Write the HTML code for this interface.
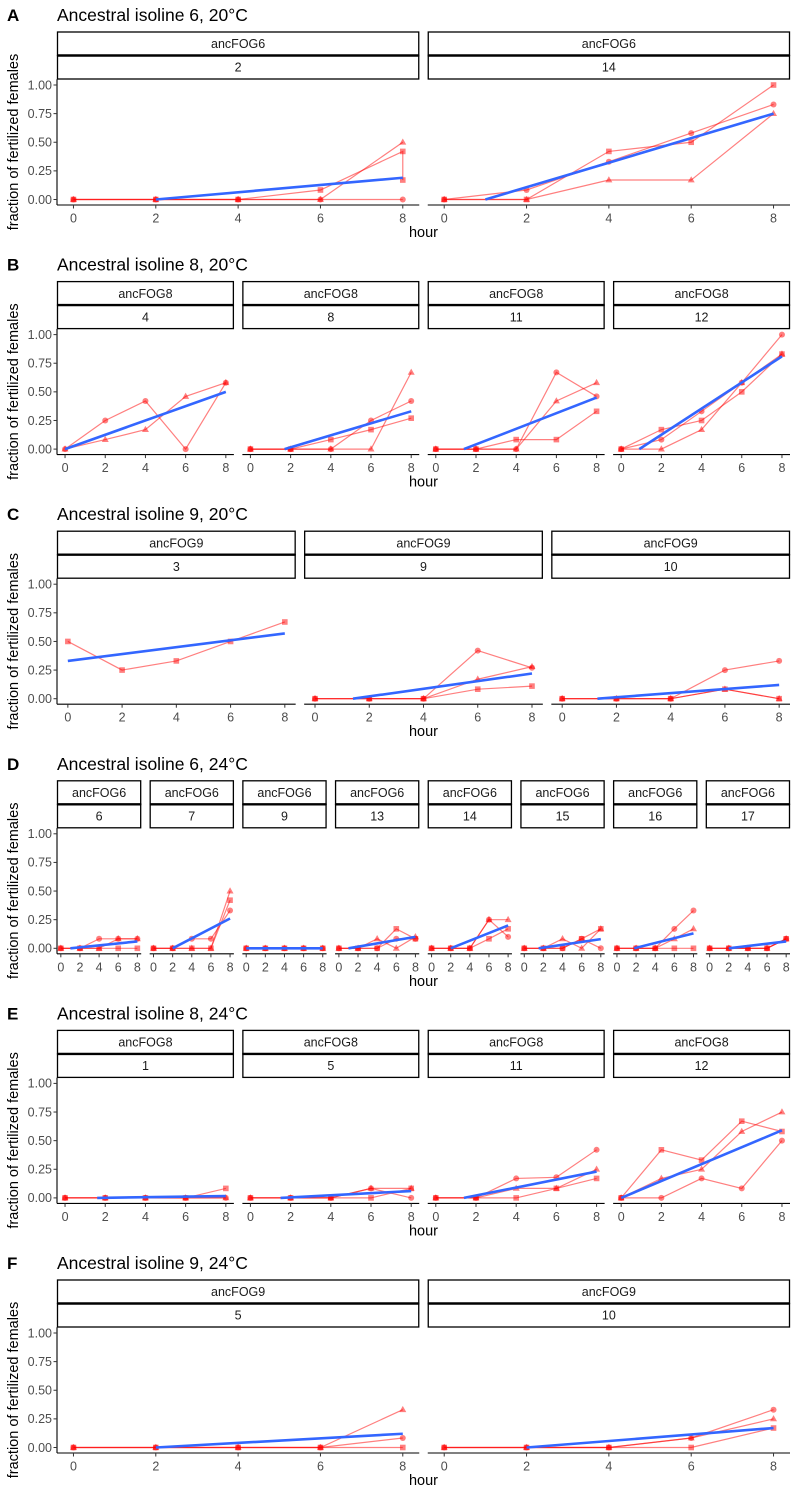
<!DOCTYPE html>
<html><head><meta charset="utf-8">
<style>
body{margin:0;background:#fff;}
svg{display:block;font-family:"Liberation Sans",Arial,sans-serif;}
</style></head>
<body>
<svg id="chart" width="799" height="1498" viewBox="0 0 799 1498" xmlns="http://www.w3.org/2000/svg"></svg>
<script>
// ---- data ----
const rowLetters = ["A","B","C","D","E","F"];
const rowTitles = ["Ancestral isoline 6, 20°C","Ancestral isoline 8, 20°C","Ancestral isoline 9, 20°C","Ancestral isoline 6, 24°C","Ancestral isoline 8, 24°C","Ancestral isoline 9, 24°C"];
const rowStrain = ["ancFOG6","ancFOG8","ancFOG9","ancFOG6","ancFOG8","ancFOG9"];
const rowFacets = [[2,14],[4,8,11,12],[3,9,10],[6,7,9,13,14,15,16,17],[1,5,11,12],[5,10]];
const hours = [0,2,4,6,8];
const yTicks = [0,0.25,0.5,0.75,1];
const yTickLabels = ["0.00","0.25","0.50","0.75","1.00"];
const xTicks = [0,2,4,6,8];
// circle / triangle / square series per facet (null = absent)
const circleVals = [
 [[0,0,0,0,0],[0,0.083,0.33,0.58,0.83]],
 [[0,0.25,0.42,0,0.58],[0,0,0,0.25,0.42],[0,0,0,0.67,0.46],[0,0.083,0.33,0.58,1.0]],
 [null,[0,0,0,0.42,0.27],[0,0,0,0.25,0.33]],
 [[0,0,0.083,0.083,0.083],[0,0,0.083,0.083,0.33],[0,0,0,0,0],[0,0,0,0.083,0.083],[0,0,0,0.25,0.1],[0,0,0,0.083,0],[0,0,0,0.17,0.33],[0,0,0,0,0.083]],
 [[0,0,0,0,0],[0,0,0,0.083,0],[0,0,0.17,0.18,0.42],[0,0,0.17,0.083,0.5]],
 [[0,0,0,0,0.083],[0,0,0,0.083,0.33]]
];
const triangleVals = [
 [[0,0,0,0,0.5],[0,0,0.17,0.17,0.75]],
 [[0,0.083,0.17,0.46,0.58],[0,0,0,0,0.67],[0,0,0,0.42,0.58],[0,0,0.17,0.58,0.83]],
 [null,[0,0,0,0.17,0.28],[0,0,0,0.083,0]],
 [[0,0,0,0.083,0.083],[0,0,0,0,0.5],[0,0,0,0,0],[0,0,0.083,0,0.1],[0,0,0,0.25,0.25],[0,0,0.083,0,0.17],[0,0,0,0.083,0.17],[0,0,0,0,0.083]],
 [[0,0,0,0,0],[0,0,0,0.083,0.083],[0,0,0.083,0.083,0.25],[0,0.17,0.25,0.58,0.75]],
 [[0,0,0,0,0.33],[0,0,0,0.083,0.25]]
];
const squareVals = [
 [[0,0,0,0.083,0.42],[0,0,0.42,0.5,1.0]],
 [null,[0,0,0.083,0.17,0.27],[0,0,0.083,0.083,0.33],[0,0.17,0.25,0.5,0.83]],
 [[0.5,0.25,0.33,0.5,0.67],[0,0,0,0.083,0.11],[0,0,0,0.083,0]],
 [[0,0,0,0,0],[0,0,0,0,0.42],[0,0,0,0,0],[0,0,0,0.17,0.083],[0,0,0,0.083,0.17],[0,0,0,0.083,0.17],[0,0,0,0,0],[0,0,0,0,0.083]],
 [[0,0,0,0,0.083],[0,0,0,0,0.083],[0,0,0,0.083,0.17],[0,0.42,0.33,0.67,0.58]],
 [[0,0,0,0,0],[0,0,0,0,0.17]]
];
// extra duplicate square point (A facet 2 at hour 8)
const extraSquare = [[0,0,8,0.17]]; // row, facet, hour, value
// blue fit line: start hour, start value, end value (at hour 8)
const fitStartX = [[2,1],[0,1.7,1.4,0.9],[0,1.4,1.3],[1,2,0,1,2,1.5,1.8,2],[1.6,1.5,1.4,0],[2,2]];
const fitStartY = [[0,0],[0,0,0,0],[0.33,0,0],[0,0,0,0,0,0,0,0],[0,0,0,0],[0,0]];
const fitEndY = [[0.19,0.75],[0.5,0.33,0.45,0.81],[0.57,0.22,0.12],[0.06,0.26,0,0.1,0.2,0.08,0.13,0.06],[0.016,0.06,0.23,0.59],[0.12,0.17]];

// ---- drawing ----
const svg = document.getElementById('chart');
const NS = "http://www.w3.org/2000/svg";
function mk(tag, attrs, parent){const e=document.createElementNS(NS,tag);for(const k in attrs)e.setAttribute(k,attrs[k]);(parent||svg).appendChild(e);return e;}
const PERIOD=249.6, LEFT=57, RIGHT=790, GAP=8.5;
const RED="rgba(255,0,0,0.5)";
function drawShape(g,shape,cx,cy){
  let e;
  if(shape==='circle'){e=mk('circle',{cx:cx,cy:cy,r:3,fill:RED},g);}
  else if(shape==='triangle'){e=mk('polygon',{points:`${cx},${cy-3.8} ${cx-3.5},${cy+2.4} ${cx+3.5},${cy+2.4}`,fill:RED},g);}
  else {e=mk('rect',{x:cx-2.8,y:cy-2.8,width:5.6,height:5.6,fill:RED},g);}
  
  
}
rowLetters.forEach((L,r)=>{
  const oy=r*PERIOD;
  const row=mk('g',{});
  
  
  const lt=mk('text',{x:7,y:oy+21,'font-size':17,'font-weight':'bold',fill:'#000'},row);lt.textContent=L;
  
  
  const tt=mk('text',{x:57,y:oy+21,'font-size':17.5,fill:'#000'},row);tt.textContent=rowTitles[r];
  
  
  const yl=mk('text',{x:0,y:0,'font-size':14.5,'text-anchor':'middle',transform:`translate(18,${oy+142}) rotate(-90)`},row);yl.textContent='fraction of fertilized females';
  
  
  const xl=mk('text',{x:(LEFT+RIGHT)/2,y:oy+237,'font-size':14.5,'text-anchor':'middle'},row);xl.textContent='hour';
  
  
  const y0=oy+199.5, yk=114.5;
  const ys=v=>y0-v*yk;
  // y axis
  mk('line',{x1:LEFT,y1:oy+79.3,x2:LEFT,y2:oy+205,stroke:'#000','stroke-width':1.1},row);
  yTicks.forEach((t,i)=>{
    mk('line',{x1:LEFT-3.5,y1:ys(t),x2:LEFT,y2:ys(t),stroke:'#333','stroke-width':1},row);
    const tl=mk('text',{x:LEFT-5,y:ys(t)+4.3,'font-size':12.5,fill:'#4d4d4d','text-anchor':'end'},row);tl.textContent=yTickLabels[i];
    
    
  });
  const facets=rowFacets[r], n=facets.length;
  const w=(RIGHT-LEFT-(n-1)*GAP)/n;
  facets.forEach((f,j)=>{
    const px=LEFT+j*(w+GAP);
    const xs=h=>px+(h+0.4)/8.8*w;
    const g=mk('g',{},row);
    
    
    // strips
    mk('rect',{x:px+0.5,y:oy+32,width:w-1,height:23.5,fill:'#fff',stroke:'#000','stroke-width':1.3},g);
    mk('rect',{x:px+0.5,y:oy+55.5,width:w-1,height:23.5,fill:'#fff',stroke:'#000','stroke-width':1.3},g);
    mk('line',{x1:px,y1:oy+55.5,x2:px+w,y2:oy+55.5,stroke:'#000','stroke-width':2.4},g);
    const s1=mk('text',{x:px+w/2,y:oy+48.2,'font-size':12.5,fill:'#1a1a1a','text-anchor':'middle'},g);s1.textContent=rowStrain[r];
    
    
    const s2=mk('text',{x:px+w/2,y:oy+71.7,'font-size':12.5,fill:'#1a1a1a','text-anchor':'middle'},g);s2.textContent=String(f);
    
    
    // x axis
    mk('line',{x1:px,y1:oy+205,x2:px+w,y2:oy+205,stroke:'#000','stroke-width':1.1},g);
    xTicks.forEach(t=>{
      mk('line',{x1:xs(t),y1:oy+205,x2:xs(t),y2:oy+208.5,stroke:'#333','stroke-width':1},g);
      const xt=mk('text',{x:xs(t),y:oy+222.5,'font-size':12.5,fill:'#4d4d4d','text-anchor':'middle'},g);xt.textContent=String(t);
      
      
    });
    // series
    const series=[['circle',circleVals[r][j]],['triangle',triangleVals[r][j]],['square',squareVals[r][j]]];
    series.forEach(([shape,vals])=>{
      if(!vals)return;
      const pts=vals.map((v,k)=>[xs(hours[k]),ys(v)]);
      extraSquare.forEach(e=>{if(shape==='square'&&e[0]===r&&e[1]===j)pts.push([xs(e[2]),ys(e[3])]);});
      const pl=mk('polyline',{points:pts.map(p=>p.join(',')).join(' '),fill:'none',stroke:RED,'stroke-width':1.2},g);
      
      
      pts.forEach(p=>drawShape(g,shape,p[0],p[1]));
    });
    const fl=mk('line',{x1:xs(fitStartX[r][j]),y1:ys(fitStartY[r][j]),x2:xs(8),y2:ys(fitEndY[r][j]),stroke:'#3366FF','stroke-width':2.6},g);
    
    
  });
});
</script>
</body></html>
